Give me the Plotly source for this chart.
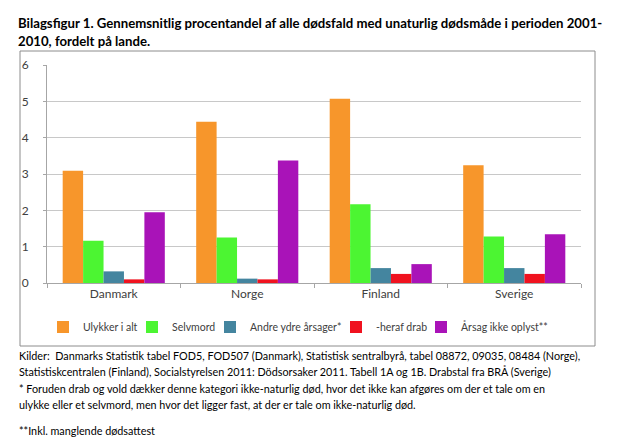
import plotly.graph_objects as go

countries = ["Danmark", "Norge", "Finland", "Sverige"]
series_names = ["Ulykker i alt", "Selvmord", "Andre ydre årsager*", "-heraf drab", "Årsag ikke oplyst**"]
ulykker = [3.09, 4.44, 5.07, 3.24]
selvmord = [1.16, 1.25, 2.17, 1.28]
andre = [0.32, 0.12, 0.41, 0.41]
drab = [0.10, 0.10, 0.25, 0.25]
ikke_oplyst = [1.95, 3.37, 0.52, 1.34]
colors = ["#F7962B", "#4CF532", "#44859F", "#F0121F", "#A913B8"]

title_lines = ["Bilagsfigur 1. Gennemsnitlig procentandel af alle dødsfald med unaturlig dødsmåde i perioden 2001-",
               "2010, fordelt på lande."]
notes = [
    "Kilder:  Danmarks Statistik tabel FOD5, FOD507 (Danmark), Statistisk sentralbyrå, tabel 08872, 09035, 08484 (Norge),",
    "Statistiskcentralen (Finland), Socialstyrelsen 2011: Dödsorsaker 2011. Tabell 1A og 1B. Drabstal fra BRÅ (Sverige)",
    "* Foruden drab og vold dækker denne kategori ikke-naturlig død, hvor det ikke kan afgøres om der et tale om en",
    "ulykke eller et selvmord, men hvor det ligger fast, at der er tale om ikke-naturlig død.",
    "**Inkl. manglende dødsattest",
]

FONT = "Lato"
W, H = 624, 440
L, R, T, B = 39, 573, 57, 275  # plot area in pixels

def px(x):
    return (x - L) / (R - L)

def py(y):
    return (B - y) / (B - T)

# legend entry left positions (pixels)
legend_x = [35, 124, 202, 328, 413]
legend_ids = ["legend", "legend2", "legend3", "legend4", "legend5"]

fig = go.Figure()
for name, vals, c, lid in zip(series_names, [ulykker, selvmord, andre, drab, ikke_oplyst], colors, legend_ids):
    fig.add_trace(go.Bar(x=countries, y=vals, name=name, legend=lid,
                         marker=dict(color=c, line=dict(width=0))))

legend_layout = {}
for lid, lx in zip(legend_ids, legend_x):
    legend_layout[lid] = dict(orientation="h", x=px(lx), xanchor="left", y=py(319), yanchor="middle",
                              font=dict(family=FONT, size=10.5, color="#404040"), itemwidth=30,
                              bgcolor="rgba(0,0,0,0)")

fig.update_layout(
    width=W, height=H,
    margin=dict(l=L, r=W - R, t=T, b=H - B),
    paper_bgcolor="white", plot_bgcolor="white",
    barmode="group", bargap=0.235, bargroupgap=0,
    font=dict(family=FONT, size=12, color="#404040"),
    showlegend=True,
    **legend_layout,
    xaxis=dict(showline=True, linecolor="#A6A6A6", linewidth=1, ticks="outside", tickson="boundaries",
               ticklen=4, tickcolor="#A6A6A6", tickfont=dict(family=FONT, size=12, color="#404040"),
               showgrid=False, fixedrange=True),
    yaxis=dict(range=[0, 6], dtick=1, showgrid=True, gridcolor="#C8C8C8", gridwidth=1,
               showline=True, linecolor="#A6A6A6", ticks="outside", ticklen=3, tickcolor="#A6A6A6",
               ticklabelstandoff=12,
               tickfont=dict(family=FONT, size=12, color="#404040"), zeroline=False, fixedrange=True),
)

# outer chart border
fig.add_shape(type="rect", xref="paper", yref="paper",
              x0=px(12), x1=px(587), y0=py(338), y1=py(43),
              line=dict(color="#8C8C8C", width=1), fillcolor="rgba(0,0,0,0)", layer="below")

# title
for t, yy in zip(title_lines, [15, 33]):
    fig.add_annotation(text="<b>" + t + "</b>", xref="paper", yref="paper", x=px(8), y=py(yy),
                       xanchor="left", yanchor="middle", showarrow=False,
                       font=dict(family=FONT, size=13.2, color="black"))

# footnotes
for t, yy in zip(notes, [347, 363, 380, 396, 422]):
    fig.add_annotation(text=t, xref="paper", yref="paper", x=px(9), y=py(yy),
                       xanchor="left", yanchor="middle", showarrow=False,
                       font=dict(family=FONT, size=10.8, color="black"))

fig.write_html("out.html")
